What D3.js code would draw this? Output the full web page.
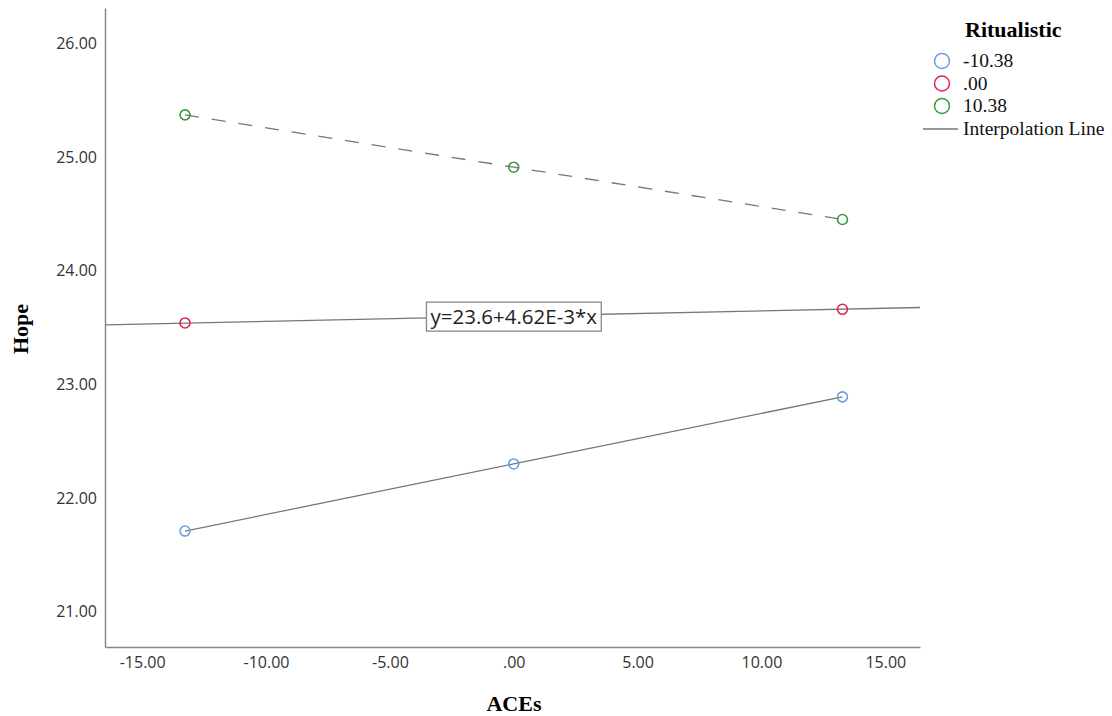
<!DOCTYPE html>
<html>
<head>
<meta charset="utf-8">
<script src="https://cdn.jsdelivr.net/npm/d3@7"></script>
<style>
  body { margin: 0; background: #fff; }
  .tick text { font-family: "Open Sans", "DejaVu Sans", sans-serif; font-size: 16px; fill: #333; }
</style>
</head>
<body>
<svg id="chart"></svg>
<script>
let aces = [-13.27, 0, 13.27]
let groups = ['-10.38', '.00', '10.38']
let hopeLow = [21.71, 22.30, 22.89]
let hopeMid = [23.54, 23.60, 23.66]
let hopeHigh = [25.37, 24.91, 24.45]
let xTicks = [-15, -10, -5, 0, 5, 10, 15]
let yTicks = [21, 22, 23, 24, 25, 26]
let fitIntercept = 23.6
let fitSlope = 0.00462
let fitLabel = 'y=23.6+4.62E-3*x'

let colors = ['#6a9fe0', '#dc2550', '#3c9a3c']
let lineColor = '#777'

let width = 1112
let height = 716
let padLeft = 105, padRight = 920, padTop = 8, padBottom = 647

let svg = d3.select('#chart')
svg.attr('width', width).attr('height', height)

let xScale = d3.scaleLinear().domain([-16.5, 16.4]).range([padLeft, padRight])
let yScale = d3.scaleLinear().domain([20.69, 26.31]).range([padBottom, padTop])

let fmt = (d) => {
    if (d === 0) return '.00'
    return d3.format('.2f')(d).replace('−', '-')
}

// axes without tick marks
let xAxis = d3.axisBottom(xScale).tickValues(xTicks).tickSize(0).tickPadding(10).tickFormat(fmt)
let yAxis = d3.axisLeft(yScale).tickValues(yTicks).tickSize(0).tickPadding(8).tickFormat(fmt)

let gx = svg.append('g')
    .attr('transform', 'translate(0,' + padBottom + ')')
    .call(xAxis)
gx.select('.domain').attr('stroke', '#888').attr('stroke-width', 1.5)

let gy = svg.append('g')
    .attr('transform', 'translate(' + padLeft + ',0)')
    .call(yAxis)
gy.select('.domain').attr('stroke', '#888').attr('stroke-width', 1.5)

let line = d3.line()
    .x((d) => xScale(d[0]))
    .y((d) => yScale(d[1]))

// low group: solid interpolation
svg.append('path')
    .datum(d3.zip(aces, hopeLow))
    .attr('d', line)
    .attr('fill', 'none')
    .attr('stroke', lineColor)
    .attr('stroke-width', 1.3)

// high group: dashed
svg.append('path')
    .datum(d3.zip(aces, hopeHigh))
    .attr('d', line)
    .attr('fill', 'none')
    .attr('stroke', lineColor)
    .attr('stroke-width', 1.3)
    .attr('stroke-dasharray', '14,13')

// mid group: fit line across the whole plot
let xd = xScale.domain()
svg.append('path')
    .datum(xd.map((x) => [x, fitIntercept + fitSlope * x]))
    .attr('d', line)
    .attr('fill', 'none')
    .attr('stroke', lineColor)
    .attr('stroke-width', 1.3)

let series = [hopeLow, hopeMid, hopeHigh]
series.forEach((vals, i) => {
    svg.selectAll('.pt' + i)
        .data(d3.zip(aces, vals))
        .enter()
        .append('circle')
        .attr('cx', (d) => xScale(d[0]))
        .attr('cy', (d) => yScale(d[1]))
        .attr('r', 5)
        .attr('fill', 'none')
        .attr('stroke', colors[i])
        .attr('stroke-width', 1.6)
})

// fit label box
let lx = xScale(0), ly = yScale(fitIntercept) + 0.5
let label = svg.append('g')
let lt = label.append('text')
    .attr('x', lx)
    .attr('y', ly + 7.5)
    .attr('text-anchor', 'middle')
    .style('font-family', '"Open Sans", "DejaVu Sans", sans-serif')
    .style('font-size', '20.5px')
    .attr('fill', '#222')
    .text(fitLabel)
let bb = lt.node().getBBox()
label.insert('rect', 'text')
    .attr('x', bb.x - 4)
    .attr('y', ly - 14.5)
    .attr('width', bb.width + 8)
    .attr('height', 29)
    .attr('fill', '#fff')
    .attr('stroke', '#888')
    .attr('stroke-width', 1.3)

// axis titles
svg.append('text')
    .attr('x', 514)
    .attr('y', 711)
    .attr('text-anchor', 'middle')
    .style('font-family', '"Liberation Serif", "DejaVu Serif", serif')
    .style('font-weight', 'bold')
    .style('font-size', '22px')
    .text('ACEs')

svg.append('text')
    .attr('transform', 'translate(28,' + 329 + ') rotate(-90)')
    .attr('text-anchor', 'middle')
    .style('font-family', '"Liberation Serif", "DejaVu Serif", serif')
    .style('font-weight', 'bold')
    .style('font-size', '22px')
    .text('Hope')

// legend
let legend = svg.append('g')
legend.append('text')
    .attr('x', 965)
    .attr('y', 37)
    .style('font-family', '"Liberation Serif", "DejaVu Serif", serif')
    .style('font-weight', 'bold')
    .style('font-size', '22px')
    .text('Ritualistic')

groups.forEach((g, i) => {
    let yy = 61 + i * 22.5
    legend.append('circle')
        .attr('cx', 942)
        .attr('cy', yy)
        .attr('r', 7.5)
        .attr('fill', 'none')
        .attr('stroke', colors[i])
        .attr('stroke-width', 1.5)
    legend.append('text')
        .attr('x', 963)
        .attr('y', yy + 6)
        .style('font-family', '"Liberation Serif", "DejaVu Serif", serif')
        .style('font-size', '19.5px')
        .attr('fill', '#111')
        .text(g)
})
legend.append('line')
    .attr('x1', 923).attr('x2', 958)
    .attr('y1', 129).attr('y2', 129)
    .attr('stroke', '#999')
    .attr('stroke-width', 2)
legend.append('text')
    .attr('x', 963)
    .attr('y', 135)
    .style('font-family', '"Liberation Serif", "DejaVu Serif", serif')
    .style('font-size', '19.5px')
    .attr('fill', '#111')
    .text('Interpolation Line')
</script>
</body>
</html>
